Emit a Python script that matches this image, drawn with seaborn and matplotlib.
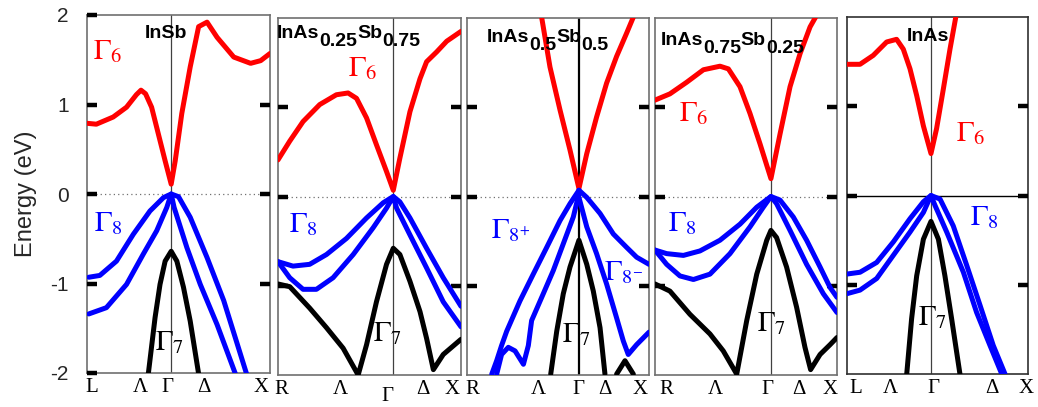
import matplotlib.pyplot as plt
import seaborn as sns

# --- style ---
sns.set_theme(style='white')
plt.rcParams['font.family'] = ['Liberation Sans', 'DejaVu Sans']
plt.rcParams['mathtext.fontset'] = 'stix'
plt.rcParams['axes.unicode_minus'] = False
plt.rcParams['axes.axisbelow'] = False

RED = '#ff0000'
BLUE = '#0000ff'
BLACK = '#000000'

# --- band data, k = fraction of the path shown in the panel, E in eV ---
# InSb
insb_k_g6 = [0.0, 0.051, 0.143, 0.216, 0.270, 0.295, 0.320, 0.353, 0.390, 0.427, 0.460, 0.482, 0.518, 0.564, 0.610, 0.656, 0.711, 0.802, 0.894, 0.949, 1.0]
insb_e_g6 = [0.79, 0.78, 0.86, 0.97, 1.11, 1.16, 1.12, 0.97, 0.67, 0.37, 0.11, 0.37, 0.90, 1.42, 1.87, 1.92, 1.75, 1.53, 1.46, 1.49, 1.57]
insb_k_g8a = [0.01, 0.070, 0.161, 0.253, 0.344, 0.418, 0.460, 0.500, 0.564, 0.656, 0.747, 0.872]
insb_e_g8a = [-0.93, -0.91, -0.75, -0.45, -0.19, -0.04, 0.0, -0.03, -0.26, -0.71, -1.19, -2.01]
insb_k_g8b = [0.01, 0.106, 0.216, 0.308, 0.381, 0.436, 0.460, 0.476, 0.546, 0.619, 0.711, 0.811]
insb_e_g8b = [-1.34, -1.27, -1.01, -0.67, -0.41, -0.15, 0.0, -0.15, -0.60, -1.01, -1.46, -2.01]
insb_k_g7 = [0.335, 0.372, 0.399, 0.427, 0.460, 0.491, 0.527, 0.564, 0.610]
insb_e_g7 = [-2.01, -1.38, -1.01, -0.75, -0.64, -0.75, -1.04, -1.42, -2.01]

# InAs0.25Sb0.75
x25_k_g6 = [0.0, 0.064, 0.137, 0.228, 0.319, 0.383, 0.429, 0.484, 0.538, 0.593, 0.630, 0.666, 0.721, 0.776, 0.812, 0.867, 0.922, 1.0]
x25_e_g6 = [0.41, 0.62, 0.84, 1.03, 1.14, 1.16, 1.10, 0.88, 0.58, 0.28, 0.07, 0.43, 0.95, 1.32, 1.51, 1.62, 1.74, 1.85]
x25_k_g8a = [0.0, 0.082, 0.173, 0.265, 0.374, 0.484, 0.575, 0.630, 0.666, 0.721, 0.812, 0.903, 1.0]
x25_e_g8a = [-0.73, -0.78, -0.76, -0.65, -0.47, -0.24, -0.07, 0.0, -0.06, -0.24, -0.58, -0.91, -1.23]
x25_k_g8b = [0.0, 0.064, 0.137, 0.210, 0.301, 0.411, 0.520, 0.593, 0.630, 0.648, 0.721, 0.812, 0.903, 1.0]
x25_e_g8b = [-0.73, -0.91, -1.04, -1.04, -0.91, -0.65, -0.35, -0.13, 0.0, -0.13, -0.43, -0.80, -1.18, -1.46]
x25_k_g7 = [0.0, 0.064, 0.173, 0.265, 0.356, 0.438, 0.484, 0.538, 0.593, 0.630, 0.666, 0.721, 0.776, 0.812, 0.849, 0.903, 1.0]
x25_e_g7 = [-0.98, -1.01, -1.25, -1.47, -1.70, -2.00, -1.66, -1.18, -0.76, -0.58, -0.65, -0.95, -1.29, -1.59, -1.94, -1.77, -1.60]

# InAs0.5Sb0.5
x50_k_g6 = [0.410, 0.456, 0.511, 0.566, 0.615, 0.658, 0.712, 0.767, 0.822, 0.877, 0.914]
x50_e_g6 = [2.01, 1.45, 0.97, 0.52, 0.09, 0.48, 0.89, 1.27, 1.57, 1.83, 2.01]
x50_k_g8a = [0.615, 0.566, 0.511, 0.438, 0.364, 0.291, 0.218, 0.190, 0.163, 0.136]
x50_e_g8a = [0.07, -0.08, -0.27, -0.57, -0.87, -1.17, -1.51, -1.67, -1.84, -1.99]
x50_k_g8b = [0.615, 0.584, 0.529, 0.474, 0.419, 0.355, 0.337, 0.310, 0.264, 0.227, 0.190, 0.163]
x50_e_g8b = [0.03, -0.23, -0.53, -0.83, -1.09, -1.39, -1.67, -1.88, -1.73, -1.69, -1.77, -1.99]
x50_k_g8c = [0.615, 0.658, 0.731, 0.804, 0.877, 0.932, 1.0]
x50_e_g8c = [0.07, -0.01, -0.19, -0.42, -0.57, -0.68, -0.76]
x50_k_g8d = [0.615, 0.658, 0.712, 0.767, 0.822, 0.859, 0.886, 0.932, 1.0]
x50_e_g8d = [-0.01, -0.34, -0.64, -0.98, -1.36, -1.62, -1.77, -1.66, -1.52]
x50_k_g7 = [0.460, 0.493, 0.529, 0.566, 0.615, 0.658, 0.694, 0.731, 0.758]
x50_e_g7 = [-1.99, -1.51, -1.09, -0.79, -0.49, -0.76, -1.06, -1.47, -1.99]
x50_k_gx = [0.822, 0.868, 0.914]
x50_e_gx = [-1.99, -1.84, -1.99]

# InAs0.75Sb0.25
x75_k_g6 = [0.0, 0.082, 0.174, 0.266, 0.357, 0.403, 0.467, 0.522, 0.577, 0.637, 0.687, 0.742, 0.797, 0.852, 0.888]
x75_e_g6 = [1.08, 1.15, 1.28, 1.42, 1.46, 1.43, 1.23, 0.93, 0.59, 0.20, 0.70, 1.23, 1.60, 1.90, 2.03]
x75_k_g8a = [0.0, 0.064, 0.156, 0.247, 0.357, 0.467, 0.559, 0.637, 0.687, 0.760, 0.833, 0.907, 0.962, 1.0]
x75_e_g8a = [-0.60, -0.64, -0.66, -0.61, -0.49, -0.31, -0.12, 0.0, -0.04, -0.23, -0.49, -0.79, -1.02, -1.13]
x75_k_g8b = [0.0, 0.064, 0.137, 0.211, 0.302, 0.412, 0.522, 0.595, 0.637, 0.668, 0.742, 0.833, 0.925, 1.0]
x75_e_g8b = [-0.60, -0.76, -0.89, -0.93, -0.87, -0.64, -0.34, -0.12, 0.0, -0.08, -0.38, -0.76, -1.09, -1.30]
x75_k_g7 = [0.0, 0.082, 0.192, 0.302, 0.375, 0.449, 0.504, 0.559, 0.614, 0.637, 0.668, 0.723, 0.778, 0.824, 0.855, 0.907, 0.962, 1.0]
x75_e_g7 = [-0.98, -1.06, -1.32, -1.54, -1.73, -1.99, -1.39, -0.87, -0.49, -0.38, -0.46, -0.79, -1.24, -1.69, -1.94, -1.77, -1.66, -1.58]

# InAs
inas_k_g6 = [0.0, 0.072, 0.145, 0.219, 0.274, 0.311, 0.348, 0.385, 0.422, 0.464, 0.495, 0.532, 0.569, 0.602]
inas_e_g6 = [1.47, 1.47, 1.57, 1.72, 1.75, 1.64, 1.42, 1.12, 0.78, 0.47, 0.75, 1.19, 1.64, 2.01]
inas_k_g8a = [0.0, 0.072, 0.164, 0.256, 0.348, 0.422, 0.464, 0.514, 0.587, 0.661, 0.735, 0.808, 0.873]
inas_e_g8a = [-0.88, -0.86, -0.75, -0.52, -0.26, -0.07, 0.0, -0.04, -0.34, -0.78, -1.23, -1.68, -2.00]
inas_k_g8b = [0.0, 0.072, 0.164, 0.256, 0.348, 0.422, 0.464, 0.486, 0.551, 0.643, 0.716, 0.790, 0.855]
inas_e_g8b = [-1.10, -1.06, -0.93, -0.67, -0.41, -0.19, 0.0, -0.11, -0.41, -0.86, -1.31, -1.68, -2.00]
inas_k_g7 = [0.330, 0.357, 0.385, 0.422, 0.464, 0.505, 0.541, 0.578, 0.624]
inas_e_g7 = [-2.00, -1.38, -0.90, -0.49, -0.29, -0.49, -0.90, -1.38, -2.00]

# high-symmetry labels
insb_ticks = [0.027, 0.29, 0.44, 0.64, 0.95]
inas_ticks = [0.05, 0.24, 0.475, 0.80, 0.99]
x25_ticks = [0.02, 0.34, 0.60, 0.79, 0.95]
x50_ticks = [0.03, 0.39, 0.61, 0.76, 0.95]
x75_ticks = [0.06, 0.33, 0.62, 0.79, 0.96]
l_names = ['L', 'Λ', 'Γ', 'Δ', 'X']
r_names = ['R', 'Λ', 'Γ', 'Δ', 'X']
gamma_k = [0.46, 0.63, 0.615, 0.637, 0.464]

energy_ticks = [-1, 0, 1]
energy_all = [-2, -1, 0, 1, 2]

titles = [['InSb'], ['InAs', '0.25', 'Sb', '0.75'], ['InAs', '0.5', 'Sb', '0.5'],
          ['InAs', '0.75', 'Sb', '0.25'], ['InAs']]

panels = [
    dict(bands=[(insb_k_g6, insb_e_g6, RED), (insb_k_g8a, insb_e_g8a, BLUE),
                (insb_k_g8b, insb_e_g8b, BLUE), (insb_k_g7, insb_e_g7, BLACK)],
         ticks=insb_ticks, names=l_names, title_xy=(0.317, 0.936),
         labels=[(0.115, 1.60, r'$\Gamma_6$', RED), (0.115, -0.32, r'$\Gamma_8$', BLUE),
                 (0.45, -1.65, r'$\Gamma_7$', BLACK)]),
    dict(bands=[(x25_k_g6, x25_e_g6, RED), (x25_k_g8a, x25_e_g8a, BLUE),
                (x25_k_g8b, x25_e_g8b, BLUE), (x25_k_g7, x25_e_g7, BLACK)],
         ticks=x25_ticks, names=r_names, title_xy=(-0.005, 0.944),
         labels=[(0.46, 1.44, r'$\Gamma_6$', RED), (0.14, -0.31, r'$\Gamma_8$', BLUE),
                 (0.60, -1.53, r'$\Gamma_7$', BLACK)]),
    dict(bands=[(x50_k_g6, x50_e_g6, RED), (x50_k_g8a, x50_e_g8a, BLUE),
                (x50_k_g8b, x50_e_g8b, BLUE), (x50_k_g8c, x50_e_g8c, BLUE),
                (x50_k_g8d, x50_e_g8d, BLUE), (x50_k_g7, x50_e_g7, BLACK),
                (x50_k_gx, x50_e_gx, BLACK)],
         ticks=x50_ticks, names=r_names, title_xy=(0.11, 0.933),
         labels=[(0.24, -0.38, r'$\Gamma_{8^{+}}$', BLUE), (0.86, -0.85, r'$\Gamma_{8^{-}}$', BLUE),
                 (0.60, -1.54, r'$\Gamma_7$', BLACK)]),
    dict(bands=[(x75_k_g6, x75_e_g6, RED), (x75_k_g8a, x75_e_g8a, BLUE),
                (x75_k_g8b, x75_e_g8b, BLUE), (x75_k_g7, x75_e_g7, BLACK)],
         ticks=x75_ticks, names=r_names, title_xy=(0.03, 0.924),
         labels=[(0.21, 0.93, r'$\Gamma_6$', RED), (0.15, -0.30, r'$\Gamma_8$', BLUE),
                 (0.64, -1.42, r'$\Gamma_7$', BLACK)]),
    dict(bands=[(inas_k_g6, inas_e_g6, RED), (inas_k_g8a, inas_e_g8a, BLUE),
                (inas_k_g8b, inas_e_g8b, BLUE), (inas_k_g7, inas_e_g7, BLACK)],
         ticks=inas_ticks, names=l_names, title_xy=(0.33, 0.933),
         labels=[(0.68, 0.70, r'$\Gamma_6$', RED), (0.76, -0.24, r'$\Gamma_8$', BLUE),
                 (0.47, -1.36, r'$\Gamma_7$', BLACK)]),
]

# panel boxes in pixels: left, right, top, bottom
W, H = 1038, 407
boxes = [(87, 270, 15, 373), (278, 461, 18, 375), (467, 649, 18, 375),
         (655, 837, 18, 375), (847, 1028, 17, 374)]


def formula(ax, x, y, parts, size=14):
    # chemical formula with full-size, lowered subscripts
    t = ax.text(x, y, parts[0], transform=ax.transAxes, ha='left', va='baseline',
                fontsize=size, fontweight='bold', color='black')
    low = False
    for p in parts[1:]:
        low = not low
        t = ax.annotate(p, xy=(1, 0), xycoords=t, xytext=(0, -5.8 if low else 5.8),
                        textcoords='offset points', ha='left', va='bottom',
                        fontsize=size, fontweight='bold', color='black')


fig = plt.figure(figsize=(W / 100, H / 100), dpi=100)

for i, (p, (l, r, t, b)) in enumerate(zip(panels, boxes)):
    ax = fig.add_axes([l / W, (H - b) / H, (r - l) / W, (b - t) / H])
    last = i == len(panels) - 1

    # reference lines
    if last:
        ax.axhline(0, color='black', lw=1.0, zorder=1)
    else:
        ax.axhline(0, color='#707070', lw=0.9, ls=(0, (1, 2.5)), zorder=1)
    ax.axvline(gamma_k[i], color='black' if i == 2 else '#404040',
               lw=1.6 if i == 2 else 0.9, zorder=1)

    for k, e, c in p['bands']:
        sns.lineplot(x=k, y=e, ax=ax, color=c, lw=3.6, sort=False, estimator=None,
                     legend=False, solid_capstyle='round', solid_joinstyle='round', zorder=3)

    ax.set_xlim(0, 1)
    ax.set_ylim(-2, 2)
    ax.set_xticks([])

    # right-side marks use the major ticks, left-side marks (and labels) the minor ones
    ax.yaxis.remove_overlapping_locs = False
    ax.set_yticks(energy_ticks, labels=[''] * len(energy_ticks))
    if i == 0:
        ax.set_yticks(energy_all, labels=[str(v) for v in energy_all], minor=True)
        ax.set_ylabel('Energy (eV)', fontsize=17, labelpad=10)
    else:
        ax.set_yticks(energy_ticks, labels=[''] * len(energy_ticks), minor=True)
        ax.set_ylabel('')
    ax.set_xlabel('')

    ax.tick_params(axis='y', which='major', direction='in', left=False, right=True,
                   labelleft=False, labelright=False, length=7, width=3.2, color='black')
    ax.tick_params(axis='y', which='minor', direction='in', left=True, right=False,
                   labelleft=True, labelright=False, length=7, width=3.2, color='black',
                   labelsize=15, pad=13)

    for s in ax.spines.values():
        s.set_color('#303030' if last else '#707070')
        s.set_linewidth(1.2)

    # high-symmetry point labels
    tr = ax.get_xaxis_transform()
    for kx, name in zip(p['ticks'], p['names']):
        dy = 0.034 if (i == 1 and name == 'Γ') else 0.014
        ax.text(kx, -dy, name, transform=tr, ha='center', va='top', fontsize=15,
                family=['Liberation Serif', 'DejaVu Serif'], color='black')

    # band labels
    for kx, ey, txt, c in p['labels']:
        ax.text(kx, ey, txt, ha='center', va='center', fontsize=21, color=c, zorder=4)

    formula(ax, p['title_xy'][0], p['title_xy'][1], titles[i])

fig.savefig('out.png', dpi=100)
